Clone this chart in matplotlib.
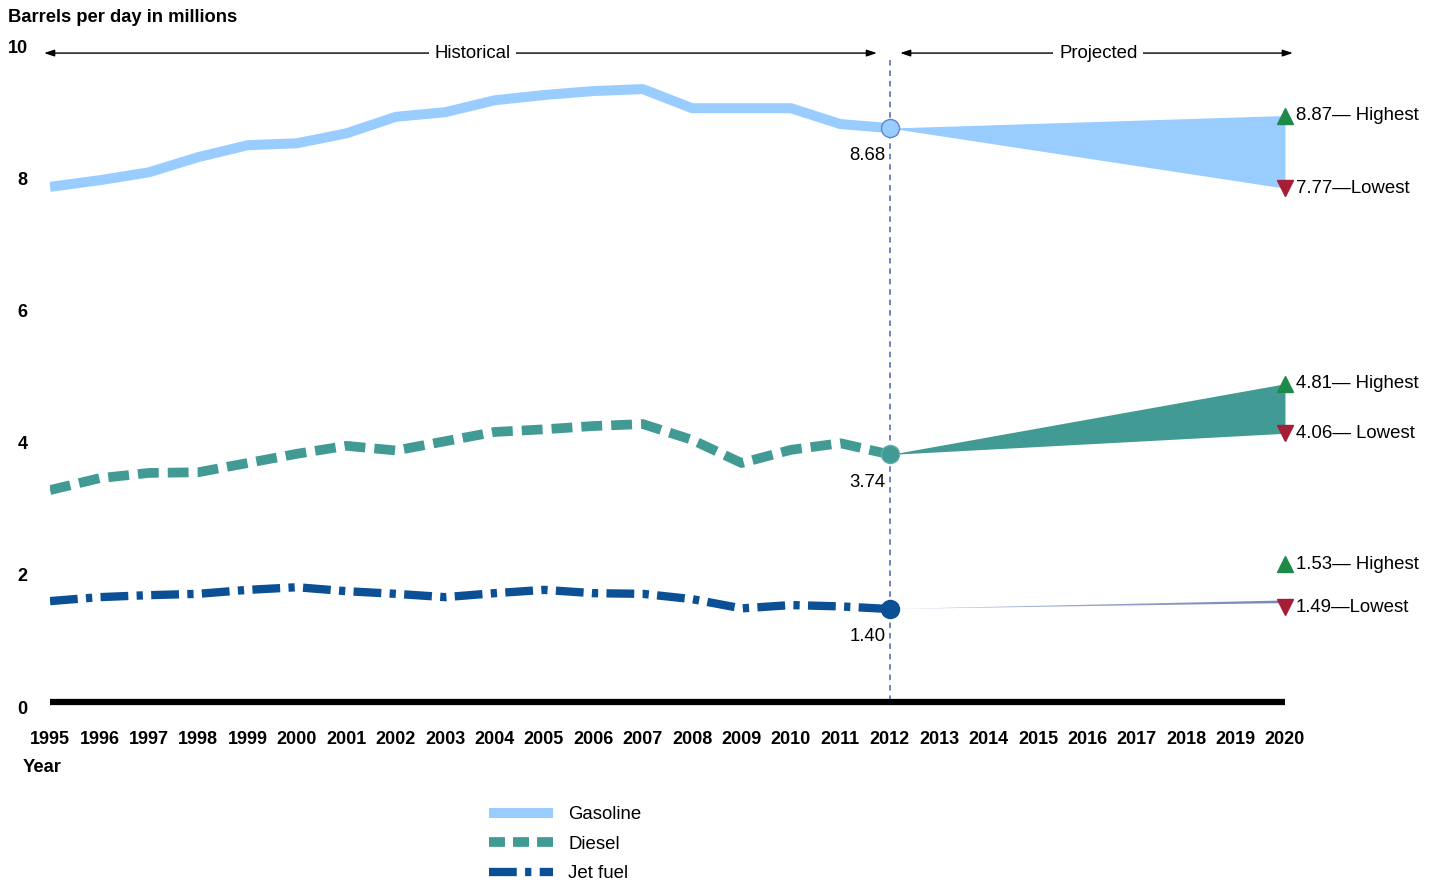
import numpy as np
import matplotlib
matplotlib.use('Agg')
import matplotlib.pyplot as plt
from matplotlib.colors import LinearSegmentedColormap
from matplotlib.lines import Line2D
from matplotlib.transforms import ScaledTranslation

plt.rcParams['font.family'] = ['Liberation Sans', 'DejaVu Sans']
plt.rcParams['lines.scale_dashes'] = False

years = list(range(1995, 2013))
gasoline = [7.79, 7.89, 8.01, 8.24, 8.42, 8.45, 8.60, 8.85, 8.92, 9.10,
            9.18, 9.24, 9.27, 8.98, 8.98, 8.98, 8.74, 8.68]
diesel = [3.20, 3.38, 3.46, 3.47, 3.61, 3.75, 3.87, 3.80, 3.94, 4.08,
          4.12, 4.17, 4.20, 3.96, 3.61, 3.81, 3.91, 3.74]
jet_fuel = [1.52, 1.58, 1.61, 1.63, 1.69, 1.73, 1.67, 1.63, 1.58, 1.64,
            1.69, 1.64, 1.63, 1.55, 1.41, 1.46, 1.44, 1.40]

proj_years = [2012, 2020]
highest = [8.87, 4.81, 1.53]
lowest = [7.77, 4.06, 1.49]
low_text = ['—Lowest', '— Lowest', '—Lowest']

series_names = ['Gasoline', 'Diesel', 'Jet fuel']
line_colors = ['#99ccff', '#419b94', '#0b5095']
marker_edges = ['#5f86c8', '#5fb0a8', '#0b5095']

FS = 13.4

fig = plt.figure(figsize=(14.39, 8.80), dpi=100)
ax = fig.add_axes([0.03475, 0.1953, 0.8582, 0.7733])
ax.set_xlim(1995, 2020)
ax.set_ylim(-0.1, 10.2)
for s in ax.spines.values():
    s.set_visible(False)

ax.set_xticks(range(1995, 2021))
ax.set_yticks(range(0, 11, 2))
ax.tick_params(length=0, labelsize=13)
ax.tick_params(axis='y', pad=16)
ax.tick_params(axis='x', pad=16.5)
for lab in ax.get_xticklabels() + ax.get_yticklabels():
    lab.set_fontweight('bold')
# nudge the y labels down a little
for lab in ax.get_yticklabels():
    lab.set_transform(lab.get_transform() + ScaledTranslation(0, -4 / 72, fig.dpi_scale_trans))

ax.axhline(0, color='black', lw=4.5, solid_capstyle='butt', zorder=2)
ax.axvline(2012, ymin=0.01, ymax=0.955, color='#7085c0', lw=1.4,
           ls=(0, (4, 3.5)), zorder=1)

styles = [dict(lw=7.2, ls='-', solid_capstyle='butt'),
          dict(lw=7, ls=(0, (15, 6.5))),
          dict(lw=6, ls=(0, (20, 6, 4.5, 6)))]
history = [gasoline, diesel, jet_fuel]

for i, vals in enumerate(history):
    ax.plot(years, vals, color=line_colors[i], zorder=3,
            solid_joinstyle='round', dash_capstyle='butt', **styles[i])
    start = vals[-1]
    hi = [start, highest[i]]
    lo = [start, lowest[i]]
    if i < 2:
        ax.fill_between(proj_years, lo, hi, color=line_colors[i], lw=0, zorder=3)
    else:
        # jet fuel band shades from light to dark
        poly = ax.fill_between(proj_years, lo, hi, color='none', lw=0, zorder=3)
        cmap = LinearSegmentedColormap.from_list('jet_band', ['#b8c0de', '#7686bb'])
        grad = np.linspace(0, 1, 256).reshape(1, -1)
        im = ax.imshow(grad, extent=[2012, 2020, min(lo + hi), max(lo + hi)],
                       aspect='auto', cmap=cmap, zorder=3, origin='lower')
        im.set_clip_path(poly.get_paths()[0], transform=ax.transData)
    ax.plot(2012, start, 'o', ms=13, mfc=line_colors[i], mec=marker_edges[i],
            mew=1, zorder=5)
    ax.annotate(f'{start:.2f}', (2012, start), xytext=(-3, -20),
                textcoords='offset points', ha='right', va='center', fontsize=FS)

# triangles and labels at the ends of the projection bands
up_shift = [0, 0, 26]
down_shift = [0, 0, -3]
for i in range(3):
    up_tr = ax.transData + ScaledTranslation(0, up_shift[i] / 72, fig.dpi_scale_trans)
    dn_tr = ax.transData + ScaledTranslation(0, down_shift[i] / 72, fig.dpi_scale_trans)
    ax.plot([2020], [highest[i]], '^', ms=12, color='#1e8a4a', zorder=6,
            clip_on=False, transform=up_tr)
    ax.plot([2020], [lowest[i]], 'v', ms=12, color='#a51d36', zorder=6,
            clip_on=False, transform=dn_tr)
    ax.annotate(f'{highest[i]:.2f}— Highest', (2020, highest[i]),
                xytext=(8, up_shift[i]), textcoords='offset points',
                ha='left', va='center', fontsize=FS, annotation_clip=False)
    ax.annotate(f'{lowest[i]:.2f}{low_text[i]}', (2020, lowest[i]),
                xytext=(8, down_shift[i]), textcoords='offset points',
                ha='left', va='center', fontsize=FS, annotation_clip=False)

# period arrows along the top
arrow_y = 9.815
arrow_kw = dict(arrowstyle='<|-|>,head_length=0.6,head_width=0.2', color='black',
                lw=1, shrinkA=0, shrinkB=0)
ax.annotate('', xy=(1994.88, arrow_y), xytext=(2011.74, arrow_y),
            arrowprops=arrow_kw, annotation_clip=False)
ax.annotate('', xy=(2012.21, arrow_y), xytext=(2020.16, arrow_y),
            arrowprops=arrow_kw, annotation_clip=False)
ax.text(2003.55, arrow_y, 'Historical', ha='center', va='center', fontsize=FS,
        bbox=dict(fc='white', ec='none', pad=4))
ax.text(2016.22, arrow_y, 'Projected', ha='center', va='center', fontsize=FS,
        bbox=dict(fc='white', ec='none', pad=4))

fig.text(8 / 1439, 1 - 17 / 880, 'Barrels per day in millions', fontsize=13.2,
         fontweight='bold', ha='left', va='center')
fig.text(23 / 1439, 1 - 768 / 880, 'Year', fontsize=13.2, fontweight='bold',
         ha='left', va='center')

handles = [Line2D([], [], color=line_colors[i], **styles[i]) for i in range(3)]
handles[1].set_dashes([11.5, 5.8])
fig.legend(handles, series_names, loc='upper left', bbox_to_anchor=(0.340, 0.084),
           frameon=False, fontsize=FS, handlelength=3.4, handletextpad=0.85,
           labelspacing=0.68, borderpad=0, borderaxespad=0)

fig.savefig('out.png', dpi=100)
